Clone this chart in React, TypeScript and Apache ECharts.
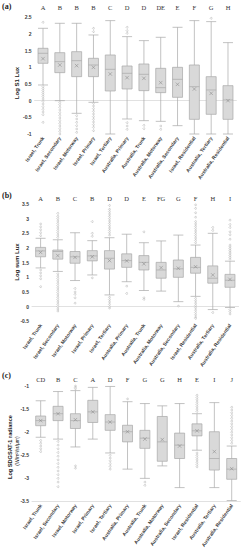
import React, { useEffect, useRef } from "react";
import * as echarts from "echarts";

const categories = [
  "Israel, Trunk",
  "Israel, Secondary",
  "Israel, Motorway",
  "Israel, Primary",
  "Israel, Tertiary",
  "Australia, Primary",
  "Australia, Trunk",
  "Australia, Motorway",
  "Australia, Secondary",
  "Israel, Residential",
  "Australia, Tertiary",
  "Australia, Residential",
];

const lettersA = ["A", "B", "B", "B", "C", "D", "D", "DE", "E", "F", "G", "H"];
const lettersB = ["A", "B", "C", "B", "D", "D", "E", "FG", "G", "F", "H", "I"];
const lettersC = ["CD", "B", "C", "A", "D", "F", "G", "G", "H", "E", "I", "J"];

// [min, Q1, median, Q3, max]
const boxesA = [
  [0.47, 1.12, 1.42, 1.57, 2.17],
  [0.0, 0.84, 1.17, 1.44, 2.32],
  [-0.38, 0.72, 1.2, 1.47, 2.32],
  [-0.05, 0.72, 1.07, 1.27, 1.97],
  [-1.0, 0.29, 0.94, 1.37, 2.4],
  [-0.55, 0.35, 0.82, 1.04, 1.92],
  [-0.6, 0.3, 0.79, 1.1, 1.8],
  [-0.62, 0.24, 0.39, 0.97, 1.9],
  [-0.75, 0.1, 0.64, 1.0, 2.2],
  [-1.0, -0.56, 0.42, 1.07, 2.4],
  [-1.0, -0.41, 0.32, 0.72, 2.37],
  [-1.0, -0.56, 0.02, 0.45, 1.74],
];
const meansA = [1.26, 1.07, 1.05, 1.0, 0.8, 0.69, 0.67, 0.54, 0.49, 0.35, 0.22, 0.0];
const outliersA = [
  [2.35, 0.42, 0.36, 0.3, 0.24, 0.18, 0.12, 0.05, -0.02, -0.1, -0.18, -0.26, -0.34, -0.42, -0.65],
  [-0.05, -0.12, -0.2, -0.28, -0.36, -0.44, -0.52, -0.6, -0.68, -0.76, -0.84, -0.92, -1.0],
  [-0.45, -0.55, -0.65, -0.75, -0.85, -0.95],
  [2.07, 2.17, -0.08, -0.16, -0.24, -0.32, -0.4, -0.48, -0.56, -0.64, -0.72, -0.8, -0.9],
  [],
  [2.02, 2.1, 2.2, -0.66, -0.76, -0.86],
  [-0.74, -0.84],
  [-0.76, -0.86],
  [],
  [],
  [2.47],
  [],
];

const boxesB = [
  [1.32, 1.7, 1.9, 2.02, 2.33],
  [1.2, 1.62, 1.88, 1.93, 2.28],
  [0.89, 1.48, 1.7, 1.88, 2.52],
  [1.08, 1.56, 1.73, 1.91, 2.25],
  [0.4, 1.28, 1.65, 1.91, 2.35],
  [0.85, 1.34, 1.57, 1.8, 2.47],
  [0.55, 1.25, 1.51, 1.74, 2.18],
  [0.53, 0.97, 1.25, 1.51, 2.24],
  [0.17, 1.0, 1.29, 1.59, 2.44],
  [0.35, 1.14, 1.34, 1.68, 2.1],
  [-0.1, 0.8, 0.97, 1.39, 2.5],
  [-0.03, 0.66, 0.9, 1.1, 1.55],
];
const meansB = [1.85, 1.74, 1.68, 1.7, 1.57, 1.56, 1.46, 1.33, 1.31, 1.36, 1.08, 0.93];
const outliersB = [
  [2.42, 2.52, 2.62, 2.72, 2.82, 1.25, 1.15, 1.05, 0.95, 0.68],
  [2.36, 2.44, 2.52, 2.6, 2.68, 2.76, 2.84, 2.92, 3.0, 3.08, 3.18,
    1.12, 1.04, 0.96, 0.88, 0.8, 0.72, 0.64, 0.56, 0.48, 0.4, 0.32, 0.24, 0.16, 0.08, 0.0, -0.08, -0.15],
  [0.62, 0.5, 0.42, 0.3, 0.12],
  [2.4, 2.5, 2.9, 0.98],
  [2.44, 2.52, 2.6, 2.68, 2.76, 2.84, 2.92, 3.0, 3.08, 3.16, 3.24, 3.32, 3.45,
    0.32, 0.24, 0.16, 0.08, 0.0, -0.05],
  [0.7, 0.45],
  [2.55, 0.3, 0.25],
  [],
  [0.02],
  [2.18, 2.26, 2.34, 2.42, 2.5, 2.58, 2.66, 2.74, 2.82, 2.9, 3.05, 3.2, 3.35, 3.47,
    0.28, 0.2, 0.12, 0.04, -0.04, -0.12, -0.2, -0.28, -0.36, -0.4],
  [2.6, 2.7, -0.2],
  [1.62, 1.68, 1.74, 1.8, 1.86, 1.92, 1.98, 2.04, 2.1, 2.3, 2.45, 2.55, 2.7, 2.8, 2.95,
    -0.1, -0.17, -0.25],
];

const boxesC = [
  [-2.11, -1.86, -1.75, -1.65, -1.32],
  [-2.15, -1.75, -1.6, -1.44, -1.12],
  [-2.32, -1.92, -1.75, -1.6, -1.1],
  [-2.15, -1.79, -1.56, -1.31, -1.03],
  [-2.45, -1.96, -1.78, -1.62, -1.01],
  [-2.8, -2.21, -1.99, -1.85, -1.34],
  [-3.0, -2.35, -2.13, -1.96, -1.38],
  [-2.73, -2.63, -2.21, -1.66, -1.43],
  [-3.2, -2.57, -2.28, -2.02, -1.38],
  [-2.39, -2.08, -1.97, -1.82, -1.6],
  [-3.2, -2.82, -2.57, -1.99, -1.36],
  [-3.48, -3.02, -2.8, -2.57, -2.3],
];
const meansC = [-1.75, -1.6, -1.73, -1.56, -1.78, -1.99, -2.15, -2.16, -2.3, -1.97, -2.42, -2.79];
const outliersC = [
  [-2.18, -2.24, -2.3, -2.36, -2.42],
  [-2.2, -2.28, -2.36, -2.44, -2.52, -2.6, -2.68, -2.76, -2.84, -2.92, -3.0, -3.08, -3.18],
  [-1.0, -1.03, -1.06, -2.73, -2.78],
  [],
  [-2.5, -2.56, -2.62, -2.68, -2.74, -2.8],
  [-1.28],
  [-3.08, -3.15],
  [],
  [],
  [-1.2, -1.25, -1.3, -1.35, -1.4, -1.45, -1.5, -1.55,
    -2.45, -2.5, -2.55, -2.6, -2.65, -2.7, -2.75],
  [],
  [-1.46, -1.52, -1.58, -1.64, -1.7, -1.76, -1.82, -1.88, -1.94, -2.0, -2.06, -2.12, -2.18, -2.24],
];

const yRangeA = [-1, 2.5];
const yRangeB = [-0.5, 3.5];
const yRangeC = [-3.5, -1];

const SANS = "'Liberation Sans', Arial, sans-serif";
const SERIF = "'Liberation Serif', 'Times New Roman', serif";

export default function App() {
  const ref = useRef<HTMLDivElement>(null);

  useEffect(() => {
    document.body.style.margin = "0";
    const chart = echarts.init(ref.current!, null, { renderer: "svg" });

    const panels = [
      { boxes: boxesA, means: meansA, outs: outliersA, letters: lettersA, range: yRangeA,
        left: 34.6, right: 9.6, top: 17.3, height: 116.7, letterMargin: 6 },
      { boxes: boxesB, means: meansB, outs: outliersB, letters: lettersB, range: yRangeB,
        left: 32, right: 7.4, top: 204, height: 117.3, letterMargin: 2 },
      { boxes: boxesC, means: meansC, outs: outliersC, letters: lettersC, range: yRangeC,
        left: 32, right: 5.6, top: 386, height: 121.5, letterMargin: 3 },
    ];

    const grid: any[] = [];
    const xAxis: any[] = [];
    const yAxis: any[] = [];
    const series: any[] = [];

    panels.forEach((p, i) => {
      grid.push({ left: p.left, right: p.right, top: p.top, height: p.height, containLabel: false });
      xAxis.push({
        type: "category",
        gridIndex: i,
        data: categories,
        axisTick: { show: false },
        axisLine: { show: true, lineStyle: { color: "#d9d9d9", width: 0.8 } },
        axisLabel: {
          interval: 0,
          rotate: 55,
          fontSize: 5,
          fontWeight: "bold",
          fontFamily: SANS,
          color: "#404040",
          margin: 3,
        },
      });
      xAxis.push({
        type: "category",
        gridIndex: i,
        position: "top",
        data: p.letters,
        axisTick: { show: false },
        axisLine: { show: false },
        axisLabel: {
          interval: 0,
          fontSize: 6.5,
          fontFamily: SERIF,
          color: "#333",
          margin: p.letterMargin,
        },
      });
      yAxis.push({
        type: "value",
        gridIndex: i,
        min: p.range[0],
        max: p.range[1],
        interval: 0.5,
        axisLine: { show: false },
        axisTick: { show: false },
        splitLine: { show: false },
        axisLabel: {
          fontSize: 5,
          fontWeight: "bold",
          fontFamily: SANS,
          color: "#404040",
          margin: 3,
        },
      });
      series.push({
        type: "boxplot",
        xAxisIndex: i * 2,
        yAxisIndex: i,
        data: p.boxes,
        boxWidth: [10, 10],
        itemStyle: { color: "#d9d9d9", borderColor: "#a8a8a8", borderWidth: 0.7 },
        emphasis: { disabled: true },
      });
      const outData: number[][] = [];
      p.outs.forEach((arr, ci) => arr.forEach((v) => outData.push([ci, v])));
      series.push({
        type: "scatter",
        xAxisIndex: i * 2,
        yAxisIndex: i,
        data: outData,
        symbol: "circle",
        symbolSize: 1.8,
        itemStyle: { color: "#ffffff", borderColor: "#a0a0a0", borderWidth: 0.5 },
        z: 3,
      });
      series.push({
        type: "scatter",
        xAxisIndex: i * 2,
        yAxisIndex: i,
        data: p.means.map((v, ci) => [ci, v]),
        symbol: "path://M0,0L10,10M10,0L0,10",
        symbolSize: 3.5,
        itemStyle: { color: "none", borderColor: "#888888", borderWidth: 0.7 },
        z: 4,
      });
    });

    const graphic: any[] = [
      { type: "text", left: 2, top: 2, style: { text: "(a)", font: `bold 8px ${SERIF}`, fill: "#222" } },
      { type: "text", left: 2, top: 191.5, style: { text: "(b)", font: `bold 8px ${SERIF}`, fill: "#222" } },
      { type: "text", left: 2, top: 371.5, style: { text: "(c)", font: `bold 8px ${SERIF}`, fill: "#222" } },
      {
        type: "text", x: 17, y: 83, rotation: Math.PI / 2,
        style: { text: "Log S1 Lux", font: `bold 6px ${SANS}`, fill: "#222", textAlign: "center", textVerticalAlign: "middle" },
      },
      {
        type: "text", x: 17, y: 262, rotation: Math.PI / 2,
        style: { text: "Log sum Lux", font: `bold 6px ${SANS}`, fill: "#222", textAlign: "center", textVerticalAlign: "middle" },
      },
      {
        type: "text", x: 10, y: 447, rotation: Math.PI / 2,
        style: { text: "Log SDGSAT-1 radiance", font: `bold 5.6px ${SANS}`, fill: "#222", textAlign: "center", textVerticalAlign: "middle" },
      },
      {
        type: "text", x: 16.5, y: 451, rotation: Math.PI / 2,
        style: { text: "(W/m²/sr/μm)", font: `5px ${SANS}`, fill: "#222", textAlign: "center", textVerticalAlign: "middle" },
      },
    ];

    chart.setOption({
      animation: false,
      backgroundColor: "#ffffff",
      grid,
      xAxis,
      yAxis,
      series,
      graphic,
    });

    return () => chart.dispose();
  }, []);

  return <div ref={ref} style={{ width: 246, height: 550 }} />;
}
